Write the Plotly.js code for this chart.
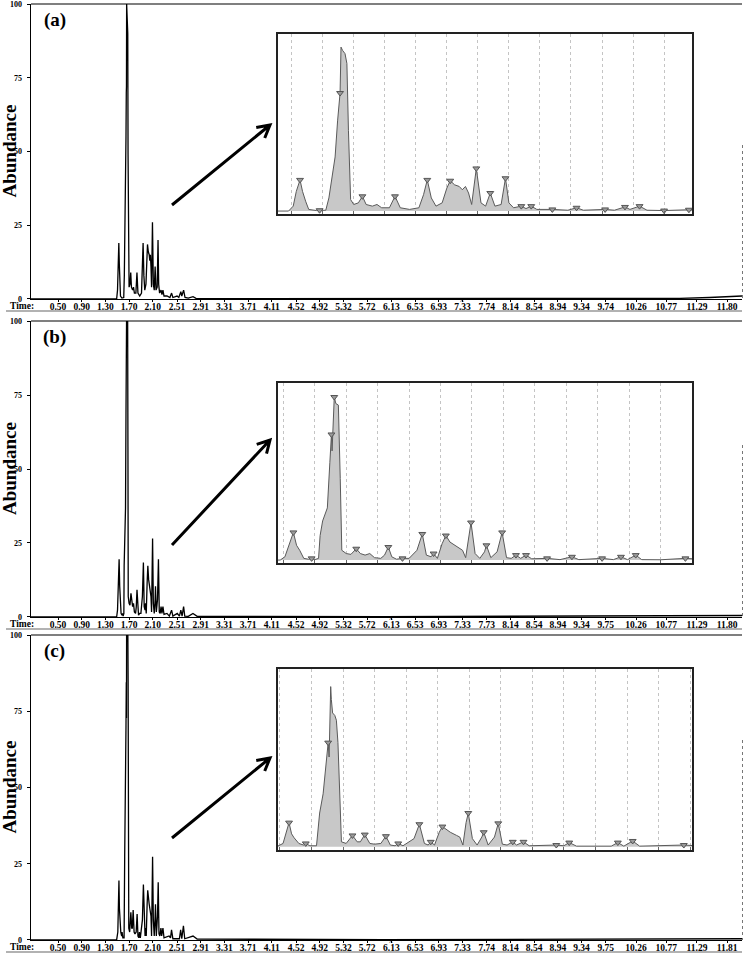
<!DOCTYPE html>
<html><head><meta charset="utf-8">
<script src="https://cdn.plot.ly/plotly-3.0.1.min.js"></script>
<style>body{margin:0;background:#fff}#chart{width:746px;height:953px}</style>
</head><body><div id="chart"></div>
<script>
// ---------- DATA (time in min, abundance in %) ----------
const chromA = [
[0.04,0],[1.49,0],[1.505,3],[1.515,12],[1.527,19],[1.535,12],[1.545,6],[1.555,1],[1.58,0.3],[1.61,0.5],[1.62,8],[1.63,22],[1.64,33],[1.648,55],[1.653,70],[1.656,72],[1.659,100],[1.664,98],[1.672,96],[1.678,90],[1.683,49],[1.69,7],[1.70,4],[1.715,5],[1.728,9],[1.74,4],[1.76,3],[1.775,4],[1.79,2],[1.815,2],[1.833,9],[1.85,2],[1.88,1],[1.91,2],[1.925,10],[1.937,19],[1.95,8],[1.965,3],[1.985,5],[2.0,14],[2.011,18.5],[2.025,16],[2.04,15],[2.05,13],[2.06,15],[2.07,11],[2.08,4],[2.095,26],[2.11,5],[2.125,3],[2.14,11],[2.155,3],[2.175,4],[2.189,20],[2.2,5],[2.215,2],[2.24,3],[2.255,1.5],[2.272,3],[2.29,1],[2.34,1],[2.39,0.5],[2.418,2],[2.44,0.5],[2.51,1],[2.54,0.5],[2.574,2.5],[2.59,1],[2.621,3],[2.645,0.5],[2.70,0.3],[2.78,0.8],[2.83,0.2],[4.0,0.1],[7.0,0.1],[10.0,0.1],[11.0,0.2],[11.5,0.5],[11.8,0.8],[12.05,1]
];
const peaksA = [[1.527,19],[1.59,0.5],[1.656,72],[1.728,9],[1.833,9],[1.937,19],[2.011,18.5],[2.095,26],[2.14,11],[2.189,20],[2.24,3],[2.272,3],[2.34,1],[2.418,2],[2.51,1],[2.574,2.5],[2.621,3],[2.70,0.3],[2.78,0.8]];

const chromB = [
[0.04,0],[1.49,0],[1.505,2.3],[1.52,11.5],[1.532,19.5],[1.542,10.4],[1.552,6.9],[1.565,1.2],[1.58,0.6],[1.59,1.2],[1.60,0.3],[1.612,1.2],[1.617,17.3],[1.625,27.6],[1.64,36.8],[1.648,69],[1.653,88.6],[1.655,77],[1.658,92],[1.662,115],[1.667,110.4],[1.675,109.3],[1.681,57.5],[1.686,6.9],[1.70,4.6],[1.715,4],[1.732,8],[1.745,4.6],[1.76,3.5],[1.775,4.6],[1.79,1.7],[1.81,1.2],[1.822,3.5],[1.834,9.2],[1.845,2.3],[1.86,0.6],[1.879,1.2],[1.90,1.2],[1.925,6.9],[1.942,18.4],[1.955,3.5],[1.97,2.3],[1.978,4.6],[1.99,1.2],[2.005,11.5],[2.017,17.3],[2.03,12.7],[2.045,10.4],[2.06,8],[2.07,6.9],[2.08,1.7],[2.09,17.3],[2.097,26.5],[2.11,4.6],[2.125,1.2],[2.14,5.8],[2.146,10.4],[2.16,1.7],[2.18,5.8],[2.196,19.5],[2.21,1.7],[2.225,1.2],[2.24,3.5],[2.255,1.2],[2.272,3.5],[2.29,0.9],[2.34,1.2],[2.38,0.3],[2.418,2.3],[2.44,0.3],[2.514,1.2],[2.55,0.3],[2.574,2.3],[2.595,0.3],[2.621,3.5],[2.64,0.3],[2.7,0.2],[2.779,1.2],[2.85,0.2],[6.0,0.1],[10.0,0.2],[11.5,0.3],[12.05,0.5]
];
const peaksB = [[1.532,19.5],[1.590,1.2],[1.653,88.6],[1.662,115],[1.732,8],[1.834,9.2],[1.879,1.2],[1.942,18.4],[1.978,4.6],[2.017,17.3],[2.097,26.5],[2.146,10.4],[2.196,19.5],[2.240,3.5],[2.272,3.5],[2.339,1.2],[2.418,2.3],[2.514,1.2],[2.574,2.3],[2.621,3.5],[2.779,1.2]];

const chromC = [
[0.04,0],[1.49,0],[1.51,2.6],[1.52,11.7],[1.529,19.5],[1.537,10.4],[1.545,7.2],[1.56,2.6],[1.575,1.3],[1.582,2.6],[1.595,0.7],[1.616,0.7],[1.626,27.3],[1.637,42.9],[1.648,70.2],[1.653,84.5],[1.656,72.8],[1.661,130],[1.663,119.6],[1.667,108.6],[1.674,106.6],[1.679,102.7],[1.684,84.5],[1.69,29.9],[1.695,3.9],[1.71,2.6],[1.73,9.1],[1.745,3.9],[1.755,3.9],[1.769,9.8],[1.785,2.6],[1.80,2],[1.82,2.6],[1.836,8.5],[1.85,1.3],[1.865,0.7],[1.875,2.6],[1.89,0.7],[1.925,6.5],[1.942,18.2],[1.958,2.6],[1.97,1.3],[1.978,3.9],[1.99,1.3],[2.005,11.7],[2.015,16.3],[2.04,11.7],[2.06,9.1],[2.07,7.8],[2.08,1.3],[2.09,19.5],[2.097,27.3],[2.11,6.5],[2.125,1.3],[2.14,7.8],[2.146,11.7],[2.16,1.3],[2.18,7.8],[2.192,18.9],[2.205,2],[2.22,1.3],[2.238,3.9],[2.25,1.3],[2.272,3.9],[2.29,0.7],[2.376,1.3],[2.40,0.7],[2.417,3.3],[2.44,0.4],[2.55,0.4],[2.571,3.3],[2.59,0.4],[2.618,4.6],[2.64,0.4],[2.78,1.3],[2.85,0.3],[6.0,0.1],[11.5,0.3],[12.05,0.4]
];
const peaksC = [[1.529,19.5],[1.582,2.6],[1.653,84.5],[1.73,9.1],[1.769,9.8],[1.836,8.5],[1.875,2.6],[1.942,18.2],[1.978,3.9],[2.015,16.3],[2.097,27.3],[2.146,11.7],[2.192,18.9],[2.238,3.9],[2.272,3.9],[2.376,1.3],[2.417,3.3],[2.571,3.3],[2.618,4.6],[2.78,1.3]];

const timeTicks = [0.50,0.90,1.30,1.70,2.10,2.51,2.91,3.31,3.71,4.11,4.52,4.92,5.32,5.72,6.13,6.53,6.93,7.33,7.74,8.14,8.54,8.94,9.34,9.75,10.26,10.77,11.29,11.80];
const tickTextA = ['0.50','0.90','1.30','1.70','2.10','2.51','2.91','3.31','3.71','4.11','4.52','4.92','5.32','5.72','6.13','6.53','6.93','7.33','7.74','8.14','8.54','8.94','9.34','9.74','10.26','10.77','11.29','11.80'];
const tickTextB = ['0.50','0.90','1.30','1.70','2.10','2.51','2.91','3.31','3.71','4.11','4.52','4.92','5.32','5.72','6.13','6.53','6.93','7.33','7.73','8.14','8.54','8.94','9.34','9.75','10.26','10.77','11.29','11.80'];
const tickTextC = ['0.50','0.90','1.30','1.70','2.10','2.51','2.91','3.31','3.71','4.11','4.52','4.92','5.32','5.72','6.13','6.53','6.93','7.33','7.74','8.14','8.54','8.94','9.34','9.75','10.26','10.77','11.29','11.81'];
const abundTicks = [0,25,50,75,100];
const panelLabels = ['(a)','(b)','(c)'];

// ---------- LAYOUT ----------
const W=746,H=953;
const X=p=>p/W, Y=p=>1-p/H;
const SERIF="'Liberation Serif','Times New Roman',serif";
const panels=[
 {chrom:chromA,peaks:peaksA,ticks:tickTextA,top:4,bot:299,inTop:34,inBot:214,inX:[1.456,2.79],inY:[-1.8,108],arrow:[172,205,270,125],dot:[145,299],caret:7.33},
 {chrom:chromB,peaks:peaksB,ticks:tickTextB,top:321,bot:617,inTop:383,inBot:563,inX:[1.483,2.80],inY:[-2.07,124.9],arrow:[172,545,270,440],dot:[445,617],caret:6.13},
 {chrom:chromC,peaks:peaksC,ticks:tickTextC,top:635,bot:940,inTop:669,inBot:850,inX:[1.494,2.806],inY:[-2.73,144.3],arrow:[172,838,270,758],dot:[740,940],caret:6.13}
];
const traces=[], shapes=[], annotations=[];
const layout={width:W,height:H,margin:{l:0,r:0,t:0,b:0},paper_bgcolor:'#fff',plot_bgcolor:'rgba(0,0,0,0)',showlegend:false,font:{family:SERIF,color:'#000'}};
const tf={family:SERIF,size:9.5,weight:'bold',color:'#000'};
panels.forEach((p,i)=>{
  const n=i+1, ni=i+4;
  const xs=p.chrom.map(d=>d[0]), ys=p.chrom.map(d=>d[1]);
  const sx=n===1?'':n, si=ni;
  traces.push({x:xs,y:ys,xaxis:'x'+sx,yaxis:'y'+sx,mode:'lines',line:{color:'#000',width:1.3},hoverinfo:'skip'});
  traces.push({x:xs,y:ys,xaxis:'x'+si,yaxis:'y'+si,mode:'lines',fill:'tozeroy',fillcolor:'#c8c8c8',line:{color:'#5a5a5a',width:1},hoverinfo:'skip'});
  traces.push({x:p.peaks.map(d=>d[0]),y:p.peaks.map(d=>d[1]),xaxis:'x'+si,yaxis:'y'+si,mode:'markers',marker:{symbol:'triangle-down',size:6,color:'#9a9a9a',line:{color:'#555',width:1}},cliponaxis:false,hoverinfo:'skip'});
  layout['xaxis'+sx]={domain:[X(31),X(742)],range:[0.044,12.05],anchor:'y'+sx,tickvals:timeTicks,ticktext:p.ticks,ticks:'outside',ticklen:2,tickwidth:1,tickcolor:'#000',tickfont:tf,ticklabelstandoff:-4,ticklabeloverflow:'allow',showline:true,linecolor:'#000',linewidth:1.2,showgrid:false,zeroline:false};
  layout['yaxis'+sx]={domain:[Y(p.bot),Y(p.top)],range:[-0.01,100.01],anchor:'x'+sx,tickvals:abundTicks,ticks:'outside',ticklen:3,tickcolor:'#000',ticklabelstandoff:3,ticklabeloverflow:'allow',tickfont:{family:SERIF,size:8,weight:'bold',color:'#000'},showline:true,linecolor:'#000',linewidth:1.5,showgrid:false,zeroline:false};
  layout['xaxis'+si]={domain:[X(278),X(692)],range:p.inX,anchor:'y'+si,showticklabels:false,tick0:1.5,dtick:0.1,ticks:'inside',ticklen:3,tickcolor:'#666',showgrid:true,gridcolor:'#c4c4c4',griddash:'dot',gridwidth:1,showline:true,mirror:true,linecolor:'#222',linewidth:2,zeroline:false};
  layout['yaxis'+si]={domain:[Y(p.inBot),Y(p.inTop)],range:p.inY,anchor:'x'+si,showticklabels:false,showgrid:false,zeroline:false,showline:true,mirror:true,linecolor:'#222',linewidth:2,ticks:''};
  shapes.push({type:'line',xref:'paper',yref:'paper',x0:X(31),x1:X(742),y0:Y(p.top),y1:Y(p.top),line:{color:'#000',width:1.2}});
  const ul=Math.min(p.bot+12,952);
  shapes.push({type:'line',xref:'paper',yref:'paper',x0:X(6),x1:X(742),y0:Y(ul),y1:Y(ul),line:{color:'#666',width:1.2}});
  shapes.push({type:'line',xref:'paper',yref:'paper',x0:X(742.5),x1:X(742.5),y0:Y(p.dot[0]),y1:Y(p.dot[1]),line:{color:'#777',width:1,dash:'dot'}});
  const [x0,y0,x1,y1]=p.arrow; const dx=x1-x0, dy=y1-y0, L=Math.hypot(dx,dy), ux=-dx/L, uy=-dy/L;
  const c=Math.cos(0.5), s=Math.sin(0.5), hl=14;
  const h1=[x1+hl*(ux*c-uy*s), y1+hl*(ux*s+uy*c)], h2=[x1+hl*(ux*c+uy*s), y1+hl*(-ux*s+uy*c)];
  const P=(a,b)=>X(a)+','+Y(b);
  shapes.push({type:'path',xref:'paper',yref:'paper',path:'M'+P(x0,y0)+' L'+P(x1,y1)+' M'+P(h1[0],h1[1])+' L'+P(x1,y1)+' L'+P(h2[0],h2[1]),line:{color:'#000',width:3}});
  annotations.push({xref:'paper',yref:'paper',x:X(55),y:Y(p.top+16),xanchor:'center',yanchor:'middle',text:'<b>'+panelLabels[i]+'</b>',showarrow:false,font:{family:SERIF,size:19,color:'#000'}});
  annotations.push({xref:'paper',yref:'paper',x:X(9),y:Y((p.top+p.bot)/2),xanchor:'center',yanchor:'middle',text:'<b>Abundance</b>',textangle:-90,showarrow:false,font:{family:SERIF,size:19,color:'#000'}});
  annotations.push({xref:'paper',yref:'paper',x:X(22),y:Y(p.bot+7),xanchor:'center',yanchor:'middle',text:'<b>Time:</b>',showarrow:false,font:{family:SERIF,size:9.5,color:'#000'}});
  annotations.push({xref:'x'+sx,yref:'paper',x:p.caret,y:Y(p.bot+2),xanchor:'center',yanchor:'middle',text:'<b>^</b>',showarrow:false,font:{family:SERIF,size:7,color:'#000'}});
});
layout.shapes=shapes; layout.annotations=annotations;
Plotly.newPlot('chart',traces,layout,{staticPlot:true,displayModeBar:false});
</script></body></html>
